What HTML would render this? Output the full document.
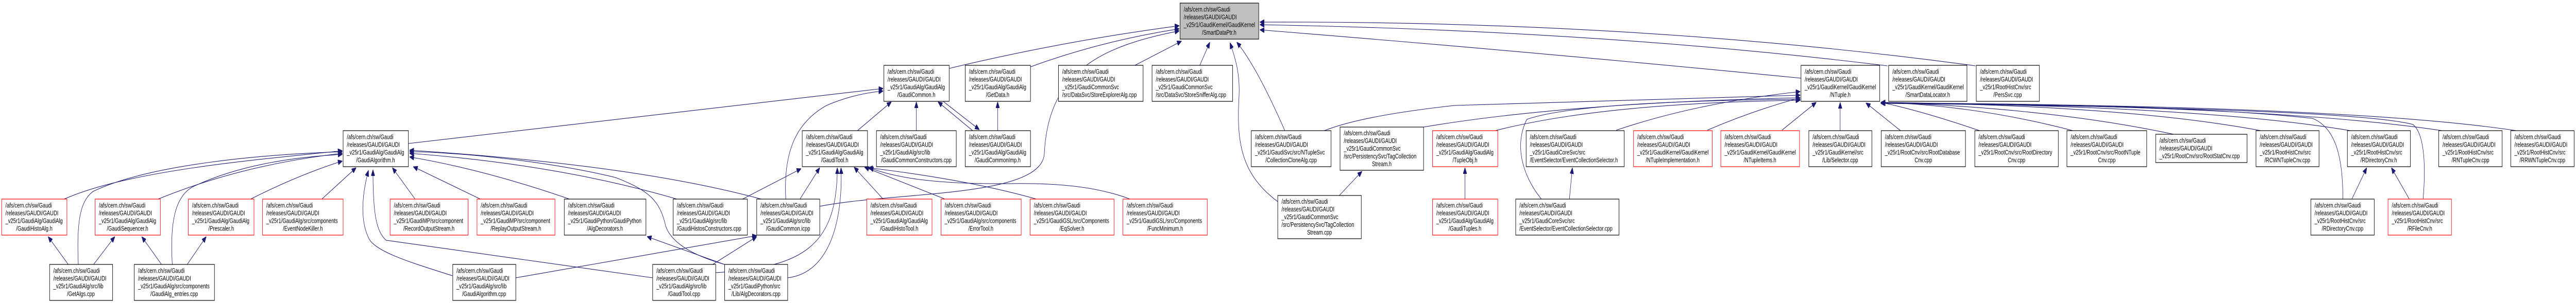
<!DOCTYPE html>
<html><head><meta charset="utf-8"><style>
html,body{margin:0;padding:0;background:#fff;width:100%;height:100%;overflow:hidden}
svg{display:block;width:100vw;height:100vh}
text{font-family:"Liberation Sans",sans-serif;font-size:13px;fill:#000}
.b{fill:#fff;stroke:#000;stroke-width:1.2}
.r{fill:#fff;stroke:#f00;stroke-width:1.2}
.g{fill:#bfbfbf;stroke:#000;stroke-width:1.2}
path.e{fill:none;stroke:#191970;stroke-width:1.1;marker-end:url(#a)}
</style></head><body>
<svg viewBox="0 0 6907 589" preserveAspectRatio="none" xmlns="http://www.w3.org/2000/svg">
<defs><marker id="a" markerUnits="userSpaceOnUse" markerWidth="12" markerHeight="10" refX="12" refY="5" orient="auto"><path d="M0,0 L12,5 L0,10 z" fill="#191970" stroke="#191970"/></marker></defs>

<!-- edges -->
<path class="e" d="M2545,133 Q2850,80 3162,50"/>
<path class="e" d="M2763,130 Q2950,80 3162,56"/>
<path class="e" d="M2198,401 C2400,372 2790,385 2800,300 C2810,140 2950,90 3162,60"/>
<path class="e" d="M3043,127 L3168,80"/>
<path class="e" d="M3217,127 L3244,82"/>
<path class="e" d="M3445,254 Q3370,130 3316,82"/>
<path class="e" d="M3426,392 C3330,340 3315,280 3322,190 C3326,140 3310,110 3298,83"/>
<path class="e" d="M4829,152 Q4100,100 3378,58"/>
<path class="e" d="M5061,128 Q4300,60 3378,48"/>
<path class="e" d="M5297,128 Q4400,40 3378,43"/>
<path class="e" d="M2299,254 L2390,198"/>
<path class="e" d="M2457,254 L2457,198"/>
<path class="e" d="M2608,254 L2515,198"/>
<path class="e" d="M2527,196 L2626,252"/>
<path class="e" d="M2675,254 L2675,198"/>
<path class="e" d="M1095,279 L2368,172"/>
<path class="e" d="M2107,388 C2100,300 2130,240 2216,205 Q2290,182 2368,177"/>
<path class="e" d="M2145,387 L2198,326"/>
<path class="e" d="M1919,530 C2150,520 2245,480 2245,326"/>
<path class="e" d="M2112,540 C2230,530 2260,420 2255,326"/>
<path class="e" d="M2368,387 L2290,325"/>
<path class="e" d="M2534,387 L2318,325"/>
<path class="e" d="M2779,387 Q2600,350 2328,326"/>
<path class="e" d="M3030,387 C2950,365 2850,355 2700,357 C2500,358 2400,345 2330,326"/>
<path class="e" d="M1991,387 L2148,328"/>
<path class="e" d="M172,387 C350,330 700,310 918,293"/>
<path class="e" d="M210,514 C205,430 215,390 250,372 C400,320 700,300 918,295"/>
<path class="e" d="M424,387 Q650,320 918,298"/>
<path class="e" d="M462,514 C455,430 470,380 520,362 C650,318 800,305 918,300"/>
<path class="e" d="M672,387 Q800,340 918,313"/>
<path class="e" d="M863,387 L955,326"/>
<path class="e" d="M1113,387 L1052,326"/>
<path class="e" d="M1288,387 L1108,324"/>
<path class="e" d="M1527,387 Q1300,330 1098,305"/>
<path class="e" d="M1815,387 Q1500,320 1098,298"/>
<path class="e" d="M2041,387 Q1700,320 1098,292"/>
<path class="e" d="M1943,514 C1850,495 1800,470 1785,440 C1770,390 1740,370 1650,345 C1450,310 1200,295 1098,295"/>
<path class="e" d="M1213,536 C1100,510 1010,490 990,465 C965,430 970,380 988,331"/>
<path class="e" d="M1750,540 L1035,467 C1010,450 1000,420 1000,330"/>
<path class="e" d="M1942,514 L1735,460"/>
<path class="e" d="M1911,514 L2029,460"/>
<path class="e" d="M1383,540 L2029,458"/>
<path class="e" d="M183,514 L129,460"/>
<path class="e" d="M251,514 L308,460"/>
<path class="e" d="M433,514 L380,460"/>
<path class="e" d="M502,514 L553,460"/>
<path class="e" d="M3551,254 Q3650,225 3900,205 L4827,185"/>
<path class="e" d="M3817,247 Q4200,200 4827,190"/>
<path class="e" d="M4009,254 Q4300,200 4827,195"/>
<path class="e" d="M4133,387 C4080,340 4060,280 4094,232 C4200,205 4500,195 4827,193"/>
<path class="e" d="M4334,253 Q4550,200 4827,178"/>
<path class="e" d="M4578,253 Q4700,215 4827,190"/>
<path class="e" d="M4778,253 L4870,199"/>
<path class="e" d="M4934,254 L4934,199"/>
<path class="e" d="M5096,254 L5003,200"/>
<path class="e" d="M5308,254 Q5150,215 5043,199"/>
<path class="e" d="M5558,254 Q5300,205 5043,199"/>
<path class="e" d="M5828,261 Q5500,210 5043,199"/>
<path class="e" d="M6062,254 Q5700,205 5043,199"/>
<path class="e" d="M6302,254 Q5900,205 5043,200"/>
<path class="e" d="M6548,254 Q6100,205 5043,200"/>
<path class="e" d="M6747,254 Q6300,205 5043,200"/>
<path class="e" d="M6282,387 C6282,320 6270,250 6200,230 Q5800,200 5043,201"/>
<path class="e" d="M6497,387 C6505,320 6500,260 6470,242 Q6300,210 5043,201"/>
<path class="e" d="M6306,387 L6346,326"/>
<path class="e" d="M6460,387 L6412,326"/>
<path class="e" d="M3591,380 L3652,333"/>
<path class="e" d="M3928,387 L3928,326"/>
<path class="e" d="M4208,387 L4216,326"/>

<!-- nodes -->
<rect class="g" x="3164" y="6" width="211" height="70"/><text x="3174" y="22.5">/afs/cern.ch/sw/Gaudi</text><text x="3174" y="37.5">/releases/GAUDI/GAUDI</text><text x="3174" y="52.5">_v25r1/GaudiKernel/GaudiKernel</text><text x="3269" y="67.5" text-anchor="middle">/SmartDataPtr.h</text>

<rect class="b" x="2370" y="127" width="175" height="70"/><text x="2380" y="143.5">/afs/cern.ch/sw/Gaudi</text><text x="2380" y="158.5">/releases/GAUDI/GAUDI</text><text x="2380" y="173.5">_v25r1/GaudiAlg/GaudiAlg</text><text x="2457" y="188.5" text-anchor="middle">/GaudiCommon.h</text>
<rect class="b" x="2588" y="127" width="175" height="70"/><text x="2598" y="143.5">/afs/cern.ch/sw/Gaudi</text><text x="2598" y="158.5">/releases/GAUDI/GAUDI</text><text x="2598" y="173.5">_v25r1/GaudiAlg/GaudiAlg</text><text x="2675" y="188.5" text-anchor="middle">/GetData.h</text>
<rect class="b" x="2838" y="127" width="227" height="70"/><text x="2848" y="143.5">/afs/cern.ch/sw/Gaudi</text><text x="2848" y="158.5">/releases/GAUDI/GAUDI</text><text x="2848" y="173.5">_v25r1/GaudiCommonSvc</text><text x="2848" y="188.5">/src/DataSvc/StoreExplorerAlg.cpp</text>
<rect class="b" x="3089" y="127" width="216" height="70"/><text x="3099" y="143.5">/afs/cern.ch/sw/Gaudi</text><text x="3099" y="158.5">/releases/GAUDI/GAUDI</text><text x="3099" y="173.5">_v25r1/GaudiCommonSvc</text><text x="3099" y="188.5">/src/DataSvc/StoreSnifferAlg.cpp</text>
<rect class="b" x="4829" y="127" width="211" height="70"/><text x="4839" y="143.5">/afs/cern.ch/sw/Gaudi</text><text x="4839" y="158.5">/releases/GAUDI/GAUDI</text><text x="4839" y="173.5">_v25r1/GaudiKernel/GaudiKernel</text><text x="4934" y="188.5" text-anchor="middle">/NTuple.h</text>
<rect class="b" x="5064" y="127" width="210" height="70"/><text x="5074" y="143.5">/afs/cern.ch/sw/Gaudi</text><text x="5074" y="158.5">/releases/GAUDI/GAUDI</text><text x="5074" y="173.5">_v25r1/GaudiKernel/GaudiKernel</text><text x="5169" y="188.5" text-anchor="middle">/SmartDataLocator.h</text>
<rect class="b" x="5299" y="127" width="169" height="70"/><text x="5309" y="143.5">/afs/cern.ch/sw/Gaudi</text><text x="5309" y="158.5">/releases/GAUDI/GAUDI</text><text x="5309" y="173.5">_v25r1/RootHistCnv/src</text><text x="5383" y="188.5" text-anchor="middle">/PersSvc.cpp</text>

<rect class="b" x="920" y="254" width="175" height="70"/><text x="930" y="270.5">/afs/cern.ch/sw/Gaudi</text><text x="930" y="285.5">/releases/GAUDI/GAUDI</text><text x="930" y="300.5">_v25r1/GaudiAlg/GaudiAlg</text><text x="1007" y="315.5" text-anchor="middle">/GaudiAlgorithm.h</text>
<rect class="b" x="2151" y="254" width="175" height="70"/><text x="2161" y="270.5">/afs/cern.ch/sw/Gaudi</text><text x="2161" y="285.5">/releases/GAUDI/GAUDI</text><text x="2161" y="300.5">_v25r1/GaudiAlg/GaudiAlg</text><text x="2238" y="315.5" text-anchor="middle">/GaudiTool.h</text>
<rect class="b" x="2350" y="254" width="214" height="70"/><text x="2360" y="270.5">/afs/cern.ch/sw/Gaudi</text><text x="2360" y="285.5">/releases/GAUDI/GAUDI</text><text x="2360" y="300.5">_v25r1/GaudiAlg/src/lib</text><text x="2457" y="315.5" text-anchor="middle">/GaudiCommonConstructors.cpp</text>
<rect class="b" x="2588" y="254" width="175" height="70"/><text x="2598" y="270.5">/afs/cern.ch/sw/Gaudi</text><text x="2598" y="285.5">/releases/GAUDI/GAUDI</text><text x="2598" y="300.5">_v25r1/GaudiAlg/GaudiAlg</text><text x="2675" y="315.5" text-anchor="middle">/GaudiCommonImp.h</text>
<rect class="b" x="3355" y="254" width="214" height="70"/><text x="3365" y="270.5">/afs/cern.ch/sw/Gaudi</text><text x="3365" y="285.5">/releases/GAUDI/GAUDI</text><text x="3365" y="300.5">_v25r1/GaudiSvc/src/NTupleSvc</text><text x="3462" y="315.5" text-anchor="middle">/CollectionCloneAlg.cpp</text>
<rect class="b" x="3593" y="247" width="224" height="84"/><text x="3603" y="263">/afs/cern.ch/sw/Gaudi</text><text x="3603" y="278">/releases/GAUDI/GAUDI</text><text x="3603" y="293">_v25r1/GaudiCommonSvc</text><text x="3603" y="308">/src/PersistencySvc/TagCollection</text><text x="3705" y="323" text-anchor="middle">Stream.h</text>
<rect class="r" x="3841" y="254" width="175" height="70"/><text x="3851" y="270.5">/afs/cern.ch/sw/Gaudi</text><text x="3851" y="285.5">/releases/GAUDI/GAUDI</text><text x="3851" y="300.5">_v25r1/GaudiAlg/GaudiAlg</text><text x="3928" y="315.5" text-anchor="middle">/TupleObj.h</text>
<rect class="b" x="4092" y="254" width="263" height="70"/><text x="4102" y="270.5">/afs/cern.ch/sw/Gaudi</text><text x="4102" y="285.5">/releases/GAUDI/GAUDI</text><text x="4102" y="300.5">_v25r1/GaudiCoreSvc/src</text><text x="4102" y="315.5">/EventSelector/EventCollectionSelector.h</text>
<rect class="r" x="4380" y="254" width="211" height="70"/><text x="4390" y="270.5">/afs/cern.ch/sw/Gaudi</text><text x="4390" y="285.5">/releases/GAUDI/GAUDI</text><text x="4390" y="300.5">_v25r1/GaudiKernel/GaudiKernel</text><text x="4485" y="315.5" text-anchor="middle">/NTupleImplementation.h</text>
<rect class="r" x="4614" y="254" width="211" height="70"/><text x="4624" y="270.5">/afs/cern.ch/sw/Gaudi</text><text x="4624" y="285.5">/releases/GAUDI/GAUDI</text><text x="4624" y="300.5">_v25r1/GaudiKernel/GaudiKernel</text><text x="4719" y="315.5" text-anchor="middle">/NTupleItems.h</text>
<rect class="b" x="4850" y="254" width="169" height="70"/><text x="4860" y="270.5">/afs/cern.ch/sw/Gaudi</text><text x="4860" y="285.5">/releases/GAUDI/GAUDI</text><text x="4860" y="300.5">_v25r1/GaudiKernel/src</text><text x="4934" y="315.5" text-anchor="middle">/Lib/Selector.cpp</text>
<rect class="b" x="5044" y="254" width="226" height="70"/><text x="5054" y="270.5">/afs/cern.ch/sw/Gaudi</text><text x="5054" y="285.5">/releases/GAUDI/GAUDI</text><text x="5054" y="300.5">_v25r1/RootCnv/src/RootDatabase</text><text x="5157" y="315.5" text-anchor="middle">Cnv.cpp</text>
<rect class="b" x="5295" y="254" width="224" height="70"/><text x="5305" y="270.5">/afs/cern.ch/sw/Gaudi</text><text x="5305" y="285.5">/releases/GAUDI/GAUDI</text><text x="5305" y="300.5">_v25r1/RootCnv/src/RootDirectory</text><text x="5407" y="315.5" text-anchor="middle">Cnv.cpp</text>
<rect class="b" x="5542" y="254" width="214" height="70"/><text x="5552" y="270.5">/afs/cern.ch/sw/Gaudi</text><text x="5552" y="285.5">/releases/GAUDI/GAUDI</text><text x="5552" y="300.5">_v25r1/RootCnv/src/RootNTuple</text><text x="5649" y="315.5" text-anchor="middle">Cnv.cpp</text>
<rect class="b" x="5780" y="261" width="245" height="55"/><text x="5790" y="277.5">/afs/cern.ch/sw/Gaudi</text><text x="5790" y="292.5">/releases/GAUDI/GAUDI</text><text x="5790" y="307.5">_v25r1/RootCnv/src/RootStatCnv.cpp</text>
<rect class="b" x="6049" y="254" width="169" height="70"/><text x="6059" y="270.5">/afs/cern.ch/sw/Gaudi</text><text x="6059" y="285.5">/releases/GAUDI/GAUDI</text><text x="6059" y="300.5">_v25r1/RootHistCnv/src</text><text x="6133" y="315.5" text-anchor="middle">/RCWNTupleCnv.cpp</text>
<rect class="b" x="6294" y="254" width="169" height="70"/><text x="6304" y="270.5">/afs/cern.ch/sw/Gaudi</text><text x="6304" y="285.5">/releases/GAUDI/GAUDI</text><text x="6304" y="300.5">_v25r1/RootHistCnv/src</text><text x="6378" y="315.5" text-anchor="middle">/RDirectoryCnv.h</text>
<rect class="b" x="6539" y="254" width="170" height="70"/><text x="6549" y="270.5">/afs/cern.ch/sw/Gaudi</text><text x="6549" y="285.5">/releases/GAUDI/GAUDI</text><text x="6549" y="300.5">_v25r1/RootHistCnv/src</text><text x="6624" y="315.5" text-anchor="middle">/RNTupleCnv.cpp</text>
<rect class="b" x="6732" y="254" width="170" height="70"/><text x="6742" y="270.5">/afs/cern.ch/sw/Gaudi</text><text x="6742" y="285.5">/releases/GAUDI/GAUDI</text><text x="6742" y="300.5">_v25r1/RootHistCnv/src</text><text x="6817" y="315.5" text-anchor="middle">/RRWNTupleCnv.cpp</text>

<rect class="r" x="4.5" y="387" width="175" height="70"/><text x="14.5" y="403.5">/afs/cern.ch/sw/Gaudi</text><text x="14.5" y="418.5">/releases/GAUDI/GAUDI</text><text x="14.5" y="433.5">_v25r1/GaudiAlg/GaudiAlg</text><text x="92" y="448.5" text-anchor="middle">/GaudiHistoAlg.h</text>
<rect class="r" x="255" y="387" width="175" height="70"/><text x="265" y="403.5">/afs/cern.ch/sw/Gaudi</text><text x="265" y="418.5">/releases/GAUDI/GAUDI</text><text x="265" y="433.5">_v25r1/GaudiAlg/GaudiAlg</text><text x="342" y="448.5" text-anchor="middle">/GaudiSequencer.h</text>
<rect class="r" x="505" y="387" width="176" height="70"/><text x="515" y="403.5">/afs/cern.ch/sw/Gaudi</text><text x="515" y="418.5">/releases/GAUDI/GAUDI</text><text x="515" y="433.5">_v25r1/GaudiAlg/GaudiAlg</text><text x="593" y="448.5" text-anchor="middle">/Prescaler.h</text>
<rect class="r" x="704" y="387" width="216" height="70"/><text x="714" y="403.5">/afs/cern.ch/sw/Gaudi</text><text x="714" y="418.5">/releases/GAUDI/GAUDI</text><text x="714" y="433.5">_v25r1/GaudiAlg/src/components</text><text x="812" y="448.5" text-anchor="middle">/EventNodeKiller.h</text>
<rect class="r" x="1046" y="387" width="209" height="70"/><text x="1056" y="403.5">/afs/cern.ch/sw/Gaudi</text><text x="1056" y="418.5">/releases/GAUDI/GAUDI</text><text x="1056" y="433.5">_v25r1/GaudiMP/src/component</text><text x="1150" y="448.5" text-anchor="middle">/RecordOutputStream.h</text>
<rect class="r" x="1279" y="387" width="209" height="70"/><text x="1289" y="403.5">/afs/cern.ch/sw/Gaudi</text><text x="1289" y="418.5">/releases/GAUDI/GAUDI</text><text x="1289" y="433.5">_v25r1/GaudiMP/src/component</text><text x="1383" y="448.5" text-anchor="middle">/ReplayOutputStream.h</text>
<rect class="b" x="1513" y="387" width="219" height="70"/><text x="1523" y="403.5">/afs/cern.ch/sw/Gaudi</text><text x="1523" y="418.5">/releases/GAUDI/GAUDI</text><text x="1523" y="433.5">_v25r1/GaudiPython/GaudiPython</text><text x="1622" y="448.5" text-anchor="middle">/AlgDecorators.h</text>
<rect class="b" x="1805" y="387" width="199" height="70"/><text x="1815" y="403.5">/afs/cern.ch/sw/Gaudi</text><text x="1815" y="418.5">/releases/GAUDI/GAUDI</text><text x="1815" y="433.5">_v25r1/GaudiAlg/src/lib</text><text x="1815" y="448.5">/GaudiHistosConstructors.cpp</text>
<rect class="b" x="2029" y="387" width="169" height="70"/><text x="2039" y="403.5">/afs/cern.ch/sw/Gaudi</text><text x="2039" y="418.5">/releases/GAUDI/GAUDI</text><text x="2039" y="433.5">_v25r1/GaudiAlg/src/lib</text><text x="2113" y="448.5" text-anchor="middle">/GaudiCommon.icpp</text>
<rect class="r" x="2324" y="387" width="175" height="70"/><text x="2334" y="403.5">/afs/cern.ch/sw/Gaudi</text><text x="2334" y="418.5">/releases/GAUDI/GAUDI</text><text x="2334" y="433.5">_v25r1/GaudiAlg/GaudiAlg</text><text x="2411" y="448.5" text-anchor="middle">/GaudiHistoTool.h</text>
<rect class="r" x="2523" y="387" width="215" height="70"/><text x="2533" y="403.5">/afs/cern.ch/sw/Gaudi</text><text x="2533" y="418.5">/releases/GAUDI/GAUDI</text><text x="2533" y="433.5">_v25r1/GaudiAlg/src/components</text><text x="2630" y="448.5" text-anchor="middle">/ErrorTool.h</text>
<rect class="r" x="2762" y="387" width="225" height="70"/><text x="2772" y="403.5">/afs/cern.ch/sw/Gaudi</text><text x="2772" y="418.5">/releases/GAUDI/GAUDI</text><text x="2772" y="433.5">_v25r1/GaudiGSL/src/Components</text><text x="2874" y="448.5" text-anchor="middle">/EqSolver.h</text>
<rect class="r" x="3011" y="387" width="226" height="70"/><text x="3021" y="403.5">/afs/cern.ch/sw/Gaudi</text><text x="3021" y="418.5">/releases/GAUDI/GAUDI</text><text x="3021" y="433.5">_v25r1/GaudiGSL/src/Components</text><text x="3124" y="448.5" text-anchor="middle">/FuncMinimum.h</text>
<rect class="b" x="3426" y="380" width="224" height="84"/><text x="3436" y="396">/afs/cern.ch/sw/Gaudi</text><text x="3436" y="411">/releases/GAUDI/GAUDI</text><text x="3436" y="426">_v25r1/GaudiCommonSvc</text><text x="3436" y="441">/src/PersistencySvc/TagCollection</text><text x="3538" y="456" text-anchor="middle">Stream.cpp</text>
<rect class="r" x="3841" y="387" width="175" height="70"/><text x="3851" y="403.5">/afs/cern.ch/sw/Gaudi</text><text x="3851" y="418.5">/releases/GAUDI/GAUDI</text><text x="3851" y="433.5">_v25r1/GaudiAlg/GaudiAlg</text><text x="3928" y="448.5" text-anchor="middle">/GaudiTuples.h</text>
<rect class="b" x="4064" y="387" width="277" height="70"/><text x="4074" y="403.5">/afs/cern.ch/sw/Gaudi</text><text x="4074" y="418.5">/releases/GAUDI/GAUDI</text><text x="4074" y="433.5">_v25r1/GaudiCoreSvc/src</text><text x="4074" y="448.5">/EventSelector/EventCollectionSelector.cpp</text>
<rect class="b" x="6196" y="387" width="170" height="70"/><text x="6206" y="403.5">/afs/cern.ch/sw/Gaudi</text><text x="6206" y="418.5">/releases/GAUDI/GAUDI</text><text x="6206" y="433.5">_v25r1/RootHistCnv/src</text><text x="6281" y="448.5" text-anchor="middle">/RDirectoryCnv.cpp</text>
<rect class="r" x="6403" y="387" width="170" height="70"/><text x="6413" y="403.5">/afs/cern.ch/sw/Gaudi</text><text x="6413" y="418.5">/releases/GAUDI/GAUDI</text><text x="6413" y="433.5">_v25r1/RootHistCnv/src</text><text x="6488" y="448.5" text-anchor="middle">/RFileCnv.h</text>

<rect class="b" x="133" y="514" width="169" height="70"/><text x="143" y="530.5">/afs/cern.ch/sw/Gaudi</text><text x="143" y="545.5">/releases/GAUDI/GAUDI</text><text x="143" y="560.5">_v25r1/GaudiAlg/src/lib</text><text x="217" y="575.5" text-anchor="middle">/GetAlgs.cpp</text>
<rect class="b" x="360" y="514" width="215" height="70"/><text x="370" y="530.5">/afs/cern.ch/sw/Gaudi</text><text x="370" y="545.5">/releases/GAUDI/GAUDI</text><text x="370" y="560.5">_v25r1/GaudiAlg/src/components</text><text x="467" y="575.5" text-anchor="middle">/GaudiAlg_entries.cpp</text>
<rect class="b" x="1214" y="514" width="169" height="70"/><text x="1224" y="530.5">/afs/cern.ch/sw/Gaudi</text><text x="1224" y="545.5">/releases/GAUDI/GAUDI</text><text x="1224" y="560.5">_v25r1/GaudiAlg/src/lib</text><text x="1298" y="575.5" text-anchor="middle">/GaudiAlgorithm.cpp</text>
<rect class="b" x="1750" y="514" width="169" height="70"/><text x="1760" y="530.5">/afs/cern.ch/sw/Gaudi</text><text x="1760" y="545.5">/releases/GAUDI/GAUDI</text><text x="1760" y="560.5">_v25r1/GaudiAlg/src/lib</text><text x="1834" y="575.5" text-anchor="middle">/GaudiTool.cpp</text>
<rect class="b" x="1943" y="514" width="169" height="70"/><text x="1953" y="530.5">/afs/cern.ch/sw/Gaudi</text><text x="1953" y="545.5">/releases/GAUDI/GAUDI</text><text x="1953" y="560.5">_v25r1/GaudiPython/src</text><text x="2027" y="575.5" text-anchor="middle">/Lib/AlgDecorators.cpp</text>
</svg>
</body></html>
